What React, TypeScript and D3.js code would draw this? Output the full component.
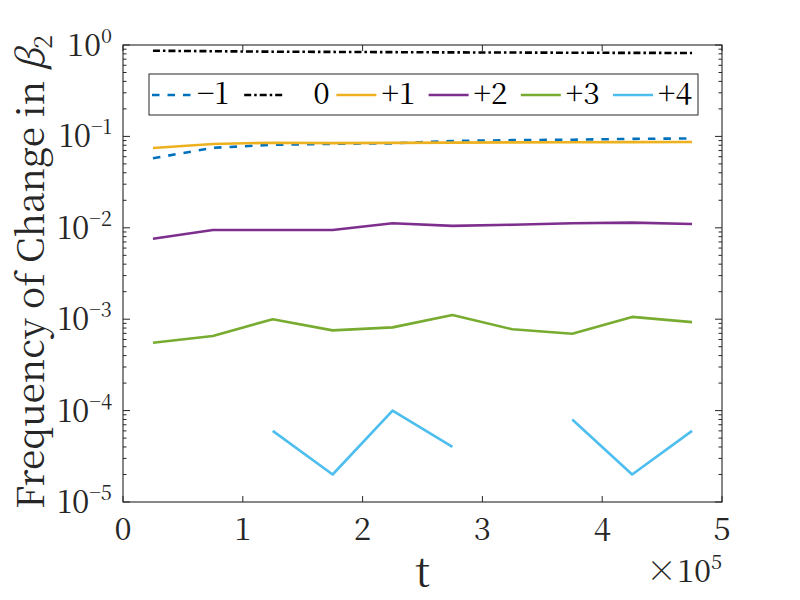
import React from "react";
import * as d3 from "d3";

const tValues = [25000, 75000, 125000, 175000, 225000, 275000, 325000, 375000, 425000, 475000];

const seriesMinus1 = [0.0576, 0.075, 0.081, 0.083, 0.084, 0.089, 0.091, 0.092, 0.094, 0.095];
const series0 = [0.866, 0.855, 0.845, 0.84, 0.835, 0.83, 0.827, 0.823, 0.82, 0.818];
const seriesPlus1 = [0.0747, 0.0826, 0.0853, 0.0845, 0.085, 0.0855, 0.086, 0.0862, 0.0865, 0.087];
const seriesPlus2 = [0.0076, 0.00946, 0.00946, 0.00946, 0.0112, 0.0105, 0.0108, 0.0112, 0.0114, 0.011];
const seriesPlus3 = [0.000553, 0.000655, 0.001, 0.000755, 0.000814, 0.00111, 0.000775, 0.000694, 0.00106, 0.00093];
const seriesPlus4: (number | null)[] = [null, null, 6e-5, 2e-5, 1e-4, 4e-5, null, 8e-5, 2e-5, 6e-5];

const legendLabels = ["\u22121", "0", "+1", "+2", "+3", "+4"];
const xTickValues = [0, 100000, 200000, 300000, 400000, 500000];
const xTickLabels = ["0", "1", "2", "3", "4", "5"];
const yTickValues = [1e-5, 1e-4, 1e-3, 1e-2, 1e-1, 1];
const yTickExponents = ["\u22125", "\u22124", "\u22123", "\u22122", "\u22121", "0"];

const seriesList = [
  { values: seriesMinus1 as (number | null)[], color: "#0072BD", dash: "7.5,8" },
  { values: series0 as (number | null)[], color: "#000000", dash: "7,3,2.5,3" },
  { values: seriesPlus1 as (number | null)[], color: "#EDB120", dash: "" },
  { values: seriesPlus2 as (number | null)[], color: "#7E2F8E", dash: "" },
  { values: seriesPlus3 as (number | null)[], color: "#77AC30", dash: "" },
  { values: seriesPlus4, color: "#4DBEEE", dash: "" },
];

const FONT = '"Noto Serif CJK SC", "Liberation Serif", serif';
const TXT = "#262626";

export default function App() {
  const left = 123, right = 722, top = 45, bottom = 502;
  const x = d3.scaleLinear().domain([0, 500000]).range([left, right]);
  const y = d3.scaleLog().domain([1e-5, 1]).range([bottom, top]);

  const line = d3
    .line<number | null>()
    .defined((d) => d != null)
    .x((_, i) => x(tValues[i]))
    .y((d) => y(d as number));

  const minorTicks: number[] = [];
  for (let k = -5; k < 0; k++) {
    for (let m = 2; m <= 9; m++) minorTicks.push(m * Math.pow(10, k));
  }

  const legendX0 = 152;
  const legendStep = 92.2;
  const legendY = 95;
  const fs = (size: number, extra: React.CSSProperties = {}) => ({ fontFamily: FONT, fontSize: size, ...extra });

  return (
    <svg width={800} height={600} style={{ position: "absolute", left: 0, top: 0, background: "#fff" }}>
      <defs>
        <clipPath id="plotclip">
          <rect x={left} y={top} width={right - left} height={bottom - top} />
        </clipPath>
      </defs>
      <rect x={0} y={0} width={800} height={600} fill="#fff" />

      {/* data lines */}
      <g clipPath="url(#plotclip)">
        {seriesList.map((s, i) => (
          <path
            key={i}
            d={line(s.values) || ""}
            fill="none"
            stroke={s.color}
            strokeWidth={2.6}
            strokeDasharray={s.dash || undefined}
            strokeLinejoin="round"
          />
        ))}
      </g>

      {/* axes box */}
      <rect x={left} y={top} width={right - left} height={bottom - top} fill="none" stroke={TXT} strokeWidth={1.1} />

      {/* x ticks */}
      {xTickValues.map((v, i) => (
        <g key={"xt" + i}>
          <line x1={x(v)} x2={x(v)} y1={bottom} y2={bottom - 6} stroke={TXT} strokeWidth={1} />
          <line x1={x(v)} x2={x(v)} y1={top} y2={top + 6} stroke={TXT} strokeWidth={1} />
          <text x={x(v)} y={540} textAnchor="middle" style={fs(31)} fill={TXT}>
            {xTickLabels[i]}
          </text>
        </g>
      ))}

      {/* y ticks */}
      {yTickValues.map((v, i) => (
        <g key={"yt" + i}>
          <line x1={left} x2={left + 7} y1={y(v)} y2={y(v)} stroke={TXT} strokeWidth={1} />
          <line x1={right} x2={right - 7} y1={y(v)} y2={y(v)} stroke={TXT} strokeWidth={1} />
          <text x={112} y={y(v) + 11} textAnchor="end" style={fs(31)} fill={TXT}>
            10
            <tspan style={{ fontSize: 20 }} dy={-13}>
              {yTickExponents[i]}
            </tspan>
          </text>
        </g>
      ))}
      {minorTicks.map((v, i) => (
        <g key={"mt" + i}>
          <line x1={left} x2={left + 3.5} y1={y(v)} y2={y(v)} stroke={TXT} strokeWidth={1} />
          <line x1={right} x2={right - 3.5} y1={y(v)} y2={y(v)} stroke={TXT} strokeWidth={1} />
        </g>
      ))}

      {/* x axis label and exponent */}
      <text x={(left + right) / 2} y={586} textAnchor="middle" style={fs(40)} fill={TXT}>
        t
      </text>
      <text x={722} y={582} textAnchor="end" style={fs(31)} fill={TXT}>
        {"\u00D710"}
        <tspan style={{ fontSize: 20 }} dy={-13}>
          5
        </tspan>
      </text>

      {/* y axis label */}
      <text
        transform={`translate(44, 272) rotate(-90)`}
        textAnchor="middle"
        style={fs(37)}
        fill={TXT}
      >
        Frequency of Change in{" "}
        <tspan style={{ fontStyle: "italic" }}>{"\u03B2"}</tspan>
        <tspan style={{ fontSize: 25 }} dy={8}>
          2
        </tspan>
      </text>

      {/* legend */}
      <rect x={149} y={74} width={549} height={41} fill="#fff" stroke={TXT} strokeWidth={1} />
      {seriesList.map((s, i) => {
        const lx = legendX0 + i * legendStep;
        return (
          <g key={"lg" + i}>
            <line
              x1={lx}
              x2={lx + 40}
              y1={legendY}
              y2={legendY}
              stroke={s.color}
              strokeWidth={2.6}
              strokeDasharray={s.dash || undefined}
            />
            <text x={lx + 45 + (i === 1 ? 24 : 0)} y={104} style={fs(30)} fill="#000">
              {legendLabels[i]}
            </text>
          </g>
        );
      })}
    </svg>
  );
}
